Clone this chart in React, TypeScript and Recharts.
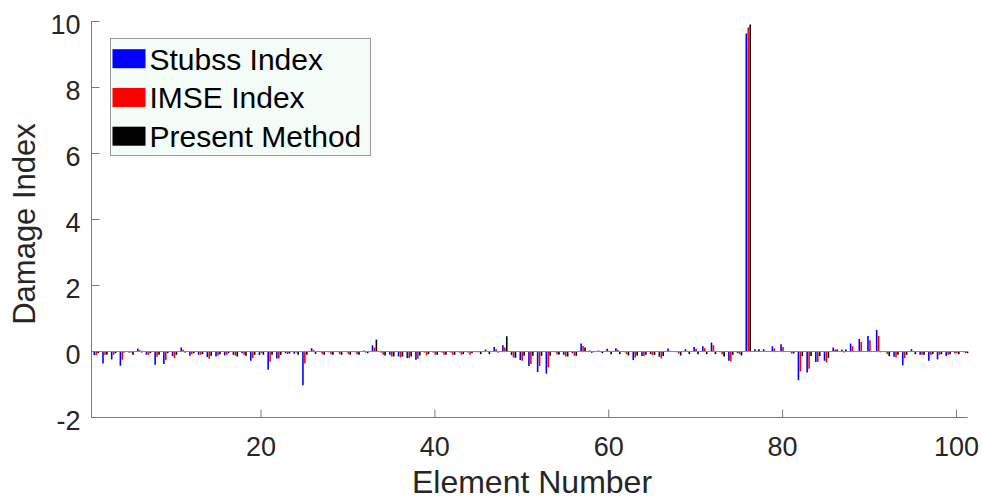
import React from 'react';
import { BarChart, Bar, XAxis, YAxis, ReferenceLine, Legend } from 'recharts';

const elements = [
  1, 2, 3, 4, 5, 6, 7, 8, 9, 10, 11, 12, 13, 14, 15, 16, 17, 18, 19, 20,
  21, 22, 23, 24, 25, 26, 27, 28, 29, 30, 31, 32, 33, 34, 35, 36, 37, 38, 39, 40,
  41, 42, 43, 44, 45, 46, 47, 48, 49, 50, 51, 52, 53, 54, 55, 56, 57, 58, 59, 60,
  61, 62, 63, 64, 65, 66, 67, 68, 69, 70, 71, 72, 73, 74, 75, 76, 77, 78, 79, 80,
  81, 82, 83, 84, 85, 86, 87, 88, 89, 90, 91, 92, 93, 94, 95, 96, 97, 98, 99, 100, 101,
];

const stubssIndex = [
  -0.11, -0.36, -0.24, -0.43, -0.03, 0.09, -0.10, -0.40, -0.38, -0.14,
  0.12, -0.13, -0.10, -0.17, -0.15, -0.12, -0.10, -0.05, -0.28, -0.11,
  -0.55, -0.21, -0.05, -0.07, -1.02, 0.10, -0.02, -0.02, -0.02, -0.02,
  -0.02, 0.03, 0.19, -0.03, -0.10, -0.15, -0.20, -0.25, -0.03, -0.03,
  -0.03, -0.03, -0.03, -0.03, -0.02, 0.06, 0.14, 0.19, -0.11, -0.26,
  -0.44, -0.62, -0.67, -0.02, -0.10, -0.05, 0.24, 0.03, 0.03, 0.08,
  0.10, -0.02, -0.26, -0.14, -0.08, -0.16, 0.09, -0.02, 0.07, 0.14,
  0.16, 0.27, -0.02, -0.28, -0.05, 9.64, 0.07, 0.07, 0.16, 0.22,
  -0.02, -0.87, -0.64, -0.32, -0.28, 0.12, 0.06, 0.24, 0.38, 0.47,
  0.65, -0.02, -0.16, -0.42, 0.07, -0.10, -0.28, -0.24, -0.14, -0.05, -0.02,
];

const imseIndex = [
  -0.11, -0.10, -0.10, -0.25, -0.03, 0.04, -0.10, -0.16, -0.26, -0.20,
  0.05, -0.08, -0.10, -0.22, -0.12, -0.10, -0.12, -0.10, -0.20, -0.05,
  -0.31, -0.21, -0.08, -0.03, -0.36, 0.05, -0.08, -0.08, -0.08, -0.08,
  -0.08, -0.03, 0.12, -0.10, -0.15, -0.18, -0.20, -0.22, -0.12, -0.10,
  -0.10, -0.10, -0.10, -0.10, -0.02, 0.02, 0.07, 0.12, -0.18, -0.28,
  -0.38, -0.44, -0.48, -0.08, -0.15, -0.13, 0.17, -0.05, -0.02, 0.02,
  0.05, -0.08, -0.18, -0.14, -0.11, -0.21, 0.02, -0.06, 0.02, 0.08,
  0.10, 0.19, -0.08, -0.30, -0.08, 9.82, 0.02, 0.02, 0.09, 0.14,
  -0.06, -0.60, -0.52, -0.31, -0.33, 0.06, -0.03, 0.16, 0.29, 0.34,
  0.47, -0.08, -0.18, -0.20, 0.02, -0.10, -0.10, -0.10, -0.10, -0.05, -0.05,
];

const presentMethod = [
  -0.05, -0.10, -0.05, -0.03, -0.10, -0.03, -0.05, -0.10, -0.05, -0.10,
  -0.03, -0.05, -0.08, -0.13, -0.08, -0.05, -0.15, -0.13, -0.10, -0.10,
  -0.10, -0.10, -0.06, -0.10, -0.10, -0.07, -0.10, -0.10, -0.10, -0.10,
  -0.10, -0.05, 0.36, -0.12, -0.15, -0.15, -0.15, -0.12, -0.08, -0.10,
  -0.10, -0.10, -0.08, -0.05, -0.08, -0.08, -0.03, 0.46, -0.19, -0.13,
  -0.13, -0.13, -0.13, -0.10, -0.15, -0.13, 0.12, -0.02, -0.05, -0.08,
  -0.08, -0.12, -0.12, -0.10, -0.10, -0.14, 0.01, -0.12, -0.08, -0.08,
  -0.08, -0.08, -0.15, -0.10, -0.12, 9.91, 0.07, 0.01, 0.01, 0.01,
  -0.06, -0.14, -0.14, -0.14, -0.19, 0.06, 0.06, 0.01, 0.01, 0.01,
  -0.02, -0.14, -0.10, -0.10, -0.08, -0.10, -0.08, -0.08, -0.08, -0.08, -0.05,
];

const xTicks = [20, 40, 60, 80, 100];
const yTicks = [-2, 0, 2, 4, 6, 8, 10];
const seriesNames = ['Stubss Index', 'IMSE Index', 'Present Method'];
const seriesColors = ['#0000ff', '#ff0000', '#000000'];

const data = elements.map((el, i) => ({
  el,
  stubss: stubssIndex[i],
  imse: imseIndex[i],
  present: presentMethod[i],
}));

const FONT = '"Liberation Sans", Arial, Helvetica, sans-serif';
const TXT = '#262626';
const FRAME = '#7a7a7a';

const BottomTick = (props: any) => {
  const { x, y, payload } = props;
  return (
    <g>
      <line x1={x} x2={x} y1={y} y2={y - 8} stroke={FRAME} strokeWidth={1} />
      <text x={x} y={y + 38} textAnchor="middle" fontSize={27} fill={TXT} fontFamily={FONT}>
        {payload.value}
      </text>
    </g>
  );
};

const TopTick = (props: any) => {
  const { x, y } = props;
  return <line x1={x} x2={x} y1={y} y2={y + 8} stroke={FRAME} strokeWidth={1} />;
};

const LeftTick = (props: any) => {
  const { x, y, payload } = props;
  return (
    <g>
      <line x1={x} x2={x + 8} y1={y} y2={y} stroke={FRAME} strokeWidth={1} />
      <text x={x - 11} y={y + 12} textAnchor="end" fontSize={27} fill={TXT} fontFamily={FONT}>
        {payload.value}
      </text>
    </g>
  );
};

const RightTick = (props: any) => {
  const { x, y } = props;
  return <line x1={x} x2={x - 8} y1={y} y2={y} stroke={FRAME} strokeWidth={1} />;
};

const LegendBox = (props: any) => {
  const raw = props.payload || [];
  const payload = [...raw].sort(
    (a: any, b: any) => seriesNames.indexOf(a.value) - seriesNames.indexOf(b.value)
  );
  return (
    <svg width={261} height={118} style={{ display: 'block' }}>
      <rect x={0.5} y={0.5} width={260} height={117} fill="#f3fcf7" stroke="#9a9a9a" strokeWidth={1} />
      {payload.map((p: any, i: number) => {
        const cy = 20.7 + i * 38.75;
        return (
          <g key={i}>
            <rect x={2.5} y={cy - 9.5} width={33} height={19} fill={p.color} />
            <text x={39.5} y={cy + 11} fontSize={30} fill="#000" fontFamily={FONT}>
              {p.value}
            </text>
          </g>
        );
      })}
    </svg>
  );
};

export default function App() {
  return (
    <div style={{ position: 'absolute', left: 0, top: 0, width: 982, height: 500, background: '#fff' }}>
      <BarChart
        width={982}
        height={500}
        data={data}
        margin={{ top: 21.5, right: 14.5, bottom: 22.5, left: 0.5 }}
        barSize={1.6}
        barGap={0.35}
      >
        <XAxis
          dataKey="el"
          type="category"
          ticks={xTicks}
          interval={0}
          height={60}
          padding={{ left: 0, right: -2 }}
          axisLine={{ stroke: FRAME }}
          tickLine={false}
          tickSize={0}
          tickMargin={0}
          tick={<BottomTick />}
          label={(lp: any) => (
            <text x={532} y={493} textAnchor="middle" fontSize={32} fill={TXT} fontFamily={FONT}>
              Element Number
            </text>
          )}
        />
        <XAxis
          xAxisId="top"
          dataKey="el"
          type="category"
          orientation="top"
          ticks={xTicks}
          interval={0}
          height={0}
          padding={{ left: 0, right: -2 }}
          axisLine={{ stroke: FRAME }}
          tickLine={false}
          tickSize={0}
          tickMargin={0}
          tick={<TopTick />}
        />
        <YAxis
          type="number"
          domain={[-2, 10]}
          ticks={yTicks}
          interval={0}
          width={91}
          axisLine={{ stroke: FRAME }}
          tickLine={false}
          tickSize={0}
          tickMargin={0}
          tick={<LeftTick />}
          label={(lp: any) => (
            <text
              x={35}
              y={224}
              transform="rotate(-90 35 224)"
              textAnchor="middle"
              fontSize={31}
              fill={TXT}
              fontFamily={FONT}
            >
              Damage Index
            </text>
          )}
        />
        <YAxis
          yAxisId="right"
          orientation="right"
          type="number"
          domain={[-2, 10]}
          ticks={yTicks}
          interval={0}
          width={0}
          axisLine={{ stroke: FRAME }}
          tickLine={false}
          tickSize={0}
          tickMargin={0}
          tick={<RightTick />}
        />
        <Legend
          layout="vertical"
          align="center"
          verticalAlign="middle"
          itemSorter={null as any}
          content={<LegendBox />}
          wrapperStyle={{ position: 'absolute', left: 110, top: 38, width: 261, height: 118 }}
        />
        <Bar dataKey="stubss" name={seriesNames[0]} fill={seriesColors[0]} isAnimationActive={false} />
        <Bar dataKey="imse" name={seriesNames[1]} fill={seriesColors[1]} isAnimationActive={false} />
        <Bar dataKey="present" name={seriesNames[2]} fill={seriesColors[2]} isAnimationActive={false} />
        <ReferenceLine y={0} stroke="#8a8a8a" strokeWidth={1} ifOverflow="visible" />
      </BarChart>
    </div>
  );
}
